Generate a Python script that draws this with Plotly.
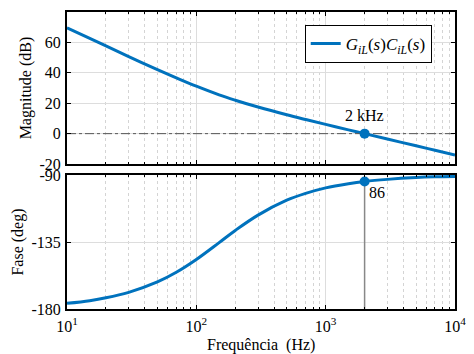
import plotly.graph_objects as go
from plotly.subplots import make_subplots

# Data
freq_hz = [10, 15, 20, 30, 50, 70, 100, 150, 200, 300, 500, 700, 1000, 1500, 2000, 3000, 5000, 7000, 10000]
magnitude_db = [69.6, 62.6, 57.7, 50.7, 42.1, 36.7, 31.2, 25.5, 22.0, 17.5, 12.4, 9.3, 6.1, 2.5, 0.0, -3.5, -8.0, -10.9, -14.0]
phase_deg = [-176.2, -174.4, -172.5, -168.8, -161.8, -155.3, -146.7, -135.4, -127.2, -116.9, -106.9, -102.3, -98.6, -95.8, -94.3, -92.9, -91.7, -91.2, -90.9]

crossover_hz = [2000]
crossover_db = [0]
crossover_phase = [-94.3]
margin_label = "86"
crossover_label = "2 kHz"

x_tickvals = [10, 100, 1000, 10000]
x_ticktext = ["10<sup>1</sup>", "10<sup>2</sup>", "10<sup>3</sup>", "10<sup>4</sup>"]
x_minor_vals = [20, 30, 40, 50, 60, 70, 80, 90, 200, 300, 400, 500, 600, 700, 800, 900,
                2000, 3000, 4000, 5000, 6000, 7000, 8000, 9000]
mag_ticks = [-20, 0, 20, 40, 60, 80]
mag_ticktext = ["-20", "0", "20", "40", "60", "80"]
phase_ticks = [-180, -135, -90]
phase_ticktext = ["-180", "-135", "-90"]

blue = "#0072BD"
font_family = "Liberation Serif, DejaVu Serif, serif"

fig = make_subplots(rows=2, cols=1, shared_xaxes=False, vertical_spacing=0.0)

fig.add_trace(go.Scatter(x=freq_hz, y=magnitude_db, mode="lines", line=dict(color=blue, width=3, shape="spline"),
                         name="<i>G</i><sub><i>iL</i></sub>(<i>s</i>)<i>C</i><sub><i>iL</i></sub>(<i>s</i>)"), row=1, col=1)
fig.add_trace(go.Scatter(x=[freq_hz[0], freq_hz[-1]], y=[0, 0], mode="lines",
                         line=dict(color="#555555", width=1, dash="dashdot"), showlegend=False), row=1, col=1)
fig.add_trace(go.Scatter(x=crossover_hz, y=crossover_db, mode="markers", marker=dict(color=blue, size=10),
                         showlegend=False), row=1, col=1)

fig.add_trace(go.Scatter(x=[crossover_hz[0], crossover_hz[0]], y=[crossover_phase[0], -180], mode="lines",
                         line=dict(color="#888888", width=1.5), showlegend=False), row=2, col=1)
fig.add_trace(go.Scatter(x=freq_hz, y=phase_deg, mode="lines", line=dict(color=blue, width=3, shape="spline"),
                         showlegend=False), row=2, col=1)
fig.add_trace(go.Scatter(x=crossover_hz, y=crossover_phase, mode="markers", marker=dict(color=blue, size=10),
                         showlegend=False), row=2, col=1)

fig.add_annotation(x=3.301, y=crossover_db[0], xref="x", yref="y", text=crossover_label, showarrow=False,
                   yshift=18, font=dict(size=16, color="black", family=font_family))
fig.add_annotation(x=3.301, y=crossover_phase[0], xref="x2", yref="y2", text=margin_label, showarrow=False,
                   xanchor="left", yanchor="top", xshift=2, yshift=-1, font=dict(size=16, color="black", family=font_family))
fig.add_annotation(x=0.5, y=-0.085, xref="paper", yref="paper", text="Frequência  (Hz)", showarrow=False,
                   yanchor="top", font=dict(size=16, color="black", family=font_family))

xcommon = dict(type="log", range=[1, 4], showline=True, linecolor="black", linewidth=2, mirror="ticks",
               ticks="inside", ticklen=4, tickcolor="black", tickvals=x_tickvals, automargin=False,
               showgrid=True, gridcolor="#dddddd", gridwidth=1, zeroline=False,
               minor=dict(tickmode="array", tickvals=x_minor_vals, showgrid=True, gridcolor="#d4d4d4",
                          griddash="dot", gridwidth=1, ticks="inside", ticklen=2, tickcolor="black"))
fig.update_xaxes(**xcommon, row=1, col=1, showticklabels=False)
fig.update_xaxes(**xcommon, row=2, col=1, ticktext=x_ticktext, ticklabelstandoff=2)

ycommon = dict(showline=True, linecolor="black", linewidth=2, mirror="ticks", ticks="inside", ticklen=4,
               tickcolor="black", showgrid=True, gridcolor="#dddddd", zeroline=False, automargin=False,
               ticklabelstandoff=1)
fig.update_yaxes(**ycommon, row=1, col=1, range=[-20, 80], tickvals=mag_ticks, ticktext=mag_ticktext,
                 title=dict(text="Magnitude (dB)", standoff=4, font=dict(size=16)))
fig.update_yaxes(**ycommon, row=2, col=1, range=[-180, -90], tickvals=phase_ticks, ticktext=phase_ticktext,
                 title=dict(text="Fase (deg)", standoff=4, font=dict(size=16)))

# page body has an 8px margin, so the figure is shrunk by 8px and margins shifted
fig.update_layout(
    width=466, height=346,
    margin=dict(l=59, r=19, t=4, b=45, autoexpand=False),
    paper_bgcolor="white", plot_bgcolor="white",
    font=dict(family=font_family, size=16, color="black"),
    yaxis=dict(domain=[0.488, 1.0]),
    yaxis2=dict(domain=[0.0, 0.451]),
    legend=dict(x=0.94, y=0.956, xanchor="right", yanchor="top", bordercolor="black", borderwidth=1,
                bgcolor="white", font=dict(size=17)),
)

fig.write_html("out.html")
